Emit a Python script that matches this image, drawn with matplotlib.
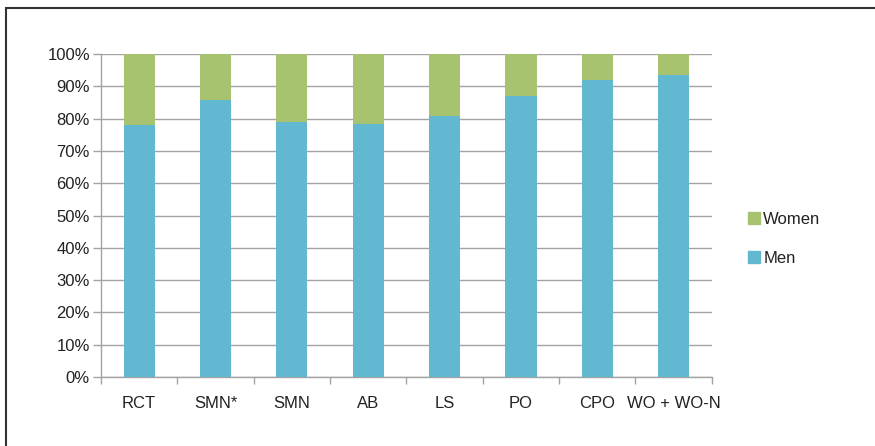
import matplotlib
matplotlib.use("Agg")
import matplotlib.pyplot as plt
from matplotlib.lines import Line2D

plt.rcParams['font.family'] = ['Liberation Sans', 'DejaVu Sans']

categories = ["RCT", "SMN*", "SMN", "AB", "LS", "PO", "CPO", "WO + WO-N"]
men = [78.1, 85.8, 79.1, 78.2, 80.8, 87.0, 92.0, 93.6]
women = [100 - m for m in men]
yticks = [0, 10, 20, 30, 40, 50, 60, 70, 80, 90, 100]
ytick_labels = [f"{v}%" for v in yticks]

men_color = "#63B8D1"
women_color = "#A7C36F"
grid_color = "#A3A3A3"
text_color = "#222222"
fs = 12

W, H = 875, 446
fig = plt.figure(figsize=(W / 100, H / 100), dpi=100)
ax = fig.add_axes([101 / W, (H - 377) / H, (711.7 - 101) / W, (377 - 54) / H])

x = list(range(len(categories)))
ax.bar(x, men, width=0.41, color=men_color, label="Men", zorder=3)
ax.bar(x, women, bottom=men, width=0.41, color=women_color, label="Women", zorder=3)

ax.set_xlim(-0.5, len(categories) - 0.5)
ax.set_ylim(0, 100)
ax.set_yticks(yticks)
ax.set_yticklabels(ytick_labels, fontsize=fs, color=text_color)
ax.yaxis.grid(True, color=grid_color, linewidth=1.0, zorder=0)
ax.set_axisbelow(True)

ax.set_xticks(x)
ax.set_xticklabels(categories, fontsize=fs, color=text_color)
ax.set_xticks([i - 0.5 for i in range(len(categories) + 1)], minor=True)
ax.tick_params(axis='x', which='major', length=0, pad=14)
ax.tick_params(axis='x', which='minor', length=5, width=1, color=grid_color, direction='out')
ax.tick_params(axis='y', length=6, width=1, color=grid_color, direction='out', pad=2)

for s in ["top", "right"]:
    ax.spines[s].set_visible(False)
for s in ["left", "bottom"]:
    ax.spines[s].set_color(grid_color)
    ax.spines[s].set_linewidth(1.0)

handles = [Line2D([], [], marker='s', linestyle='none', markersize=9, color=women_color),
           Line2D([], [], marker='s', linestyle='none', markersize=9, color=men_color)]
fig.legend(handles, ["Women", "Men"], loc='center left',
           bbox_to_anchor=(749 / W, (H - 239) / H), frameon=False,
           fontsize=fs, borderpad=0, borderaxespad=0, handlelength=0.6,
           handletextpad=0.25, labelspacing=1.45, labelcolor=text_color)

# outer frame (top and left visible)
fig.add_artist(Line2D([5.5 / W, 5.5 / W], [0, (H - 6.8) / H], transform=fig.transFigure,
                      color="#333333", linewidth=1.5, solid_capstyle='butt'))
fig.add_artist(Line2D([4.8 / W, 1], [(H - 7.5) / H, (H - 7.5) / H], transform=fig.transFigure,
                      color="#333333", linewidth=1.5, solid_capstyle='butt'))

fig.savefig("out.png", dpi=100)
